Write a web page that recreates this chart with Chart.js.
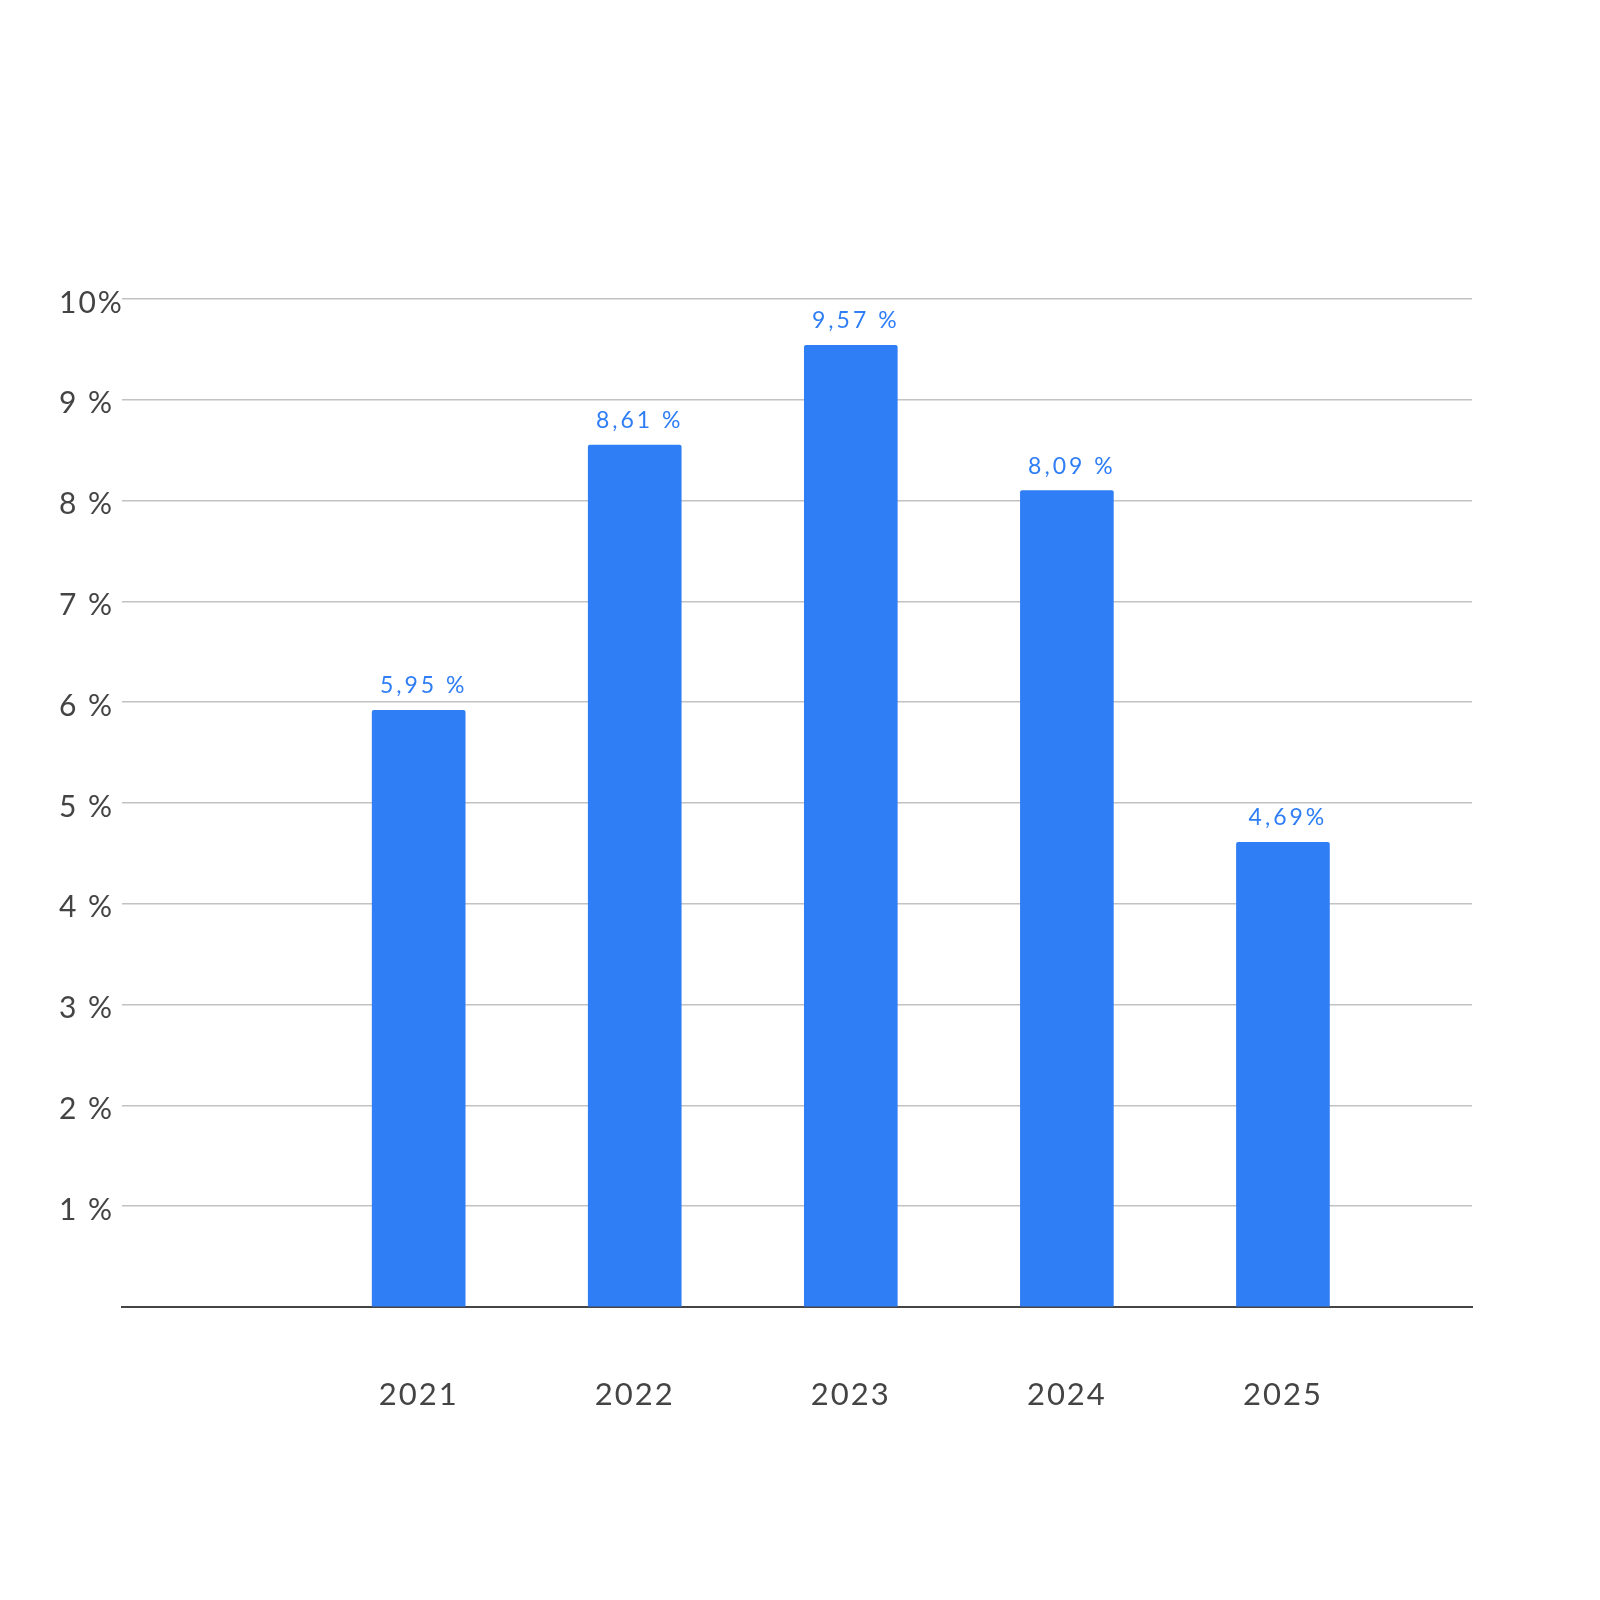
<!DOCTYPE html>
<html>
<head>
<meta charset="utf-8">
<script src="https://cdn.jsdelivr.net/npm/chart.js@4/dist/chart.umd.min.js"></script>
<style>
html,body{margin:0;padding:0;background:#fff;}
canvas{display:block;}
</style>
</head>
<body>
<canvas id="c" width="1600" height="1600"></canvas>
<script>
const years = [2021, 2022, 2023, 2024, 2025];
const barValues = [5.92, 8.55, 9.54, 8.10, 4.61];
const valueLabels = ['5,95 %', '8,61 %', '9,57 %', '8,09 %', '4,69%'];
const yTickLabels = {1:'1 %',2:'2 %',3:'3 %',4:'4 %',5:'5 %',6:'6 %',7:'7 %',8:'8 %',9:'9 %',10:'10%'};

const FONT = 'Lato, "Open Sans", sans-serif';
const BLUE = '#2f7ef6';

const letterSpacingPlugin = {
  id: 'ls',
  beforeDraw(chart){ chart.ctx.letterSpacing = '2px'; },
  beforeLayout(chart){ chart.ctx.letterSpacing = '2px'; }
};

const valueLabelPlugin = {
  id: 'valueLabels',
  afterDatasetsDraw(chart){
    const ctx = chart.ctx;
    const meta = chart.getDatasetMeta(0);
    ctx.save();
    ctx.letterSpacing = '3px';
    ctx.font = '23px ' + FONT;
    ctx.fillStyle = BLUE;
    ctx.textAlign = 'center';
    ctx.textBaseline = 'alphabetic';
    meta.data.forEach((bar, i) => {
      ctx.fillText(valueLabels[i], bar.x + 5, bar.y - 17);
    });
    ctx.restore();
  }
};

new Chart(document.getElementById('c'), {
  type: 'bar',
  data: {
    datasets: [{
      data: years.map((y, i) => ({x: y, y: barValues[i]})),
      backgroundColor: BLUE,
      borderRadius: 2,
      borderSkipped: 'bottom',
      barThickness: 93
    }]
  },
  options: {
    responsive: false,
    animation: false,
    devicePixelRatio: 1,
    layout: { padding: { left: 59, right: 128, top: 299, bottom: 163 } },
    plugins: { legend: { display: false }, tooltip: { enabled: false } },
    scales: {
      x: {
        type: 'linear',
        min: 2019.627,
        max: 2025.875,
        offset: false,
        afterBuildTicks(scale){ scale.ticks = years.map(v => ({value: v})); },
        afterFit(scale){ scale.height = 130; },
        ticks: {
          callback: v => String(v),
          color: '#444',
          font: { family: FONT, size: 31 },
          padding: 69,
          maxRotation: 0,
          autoSkip: false
        },
        grid: { display: false, drawTicks: false },
        border: { display: true, color: '#444', width: 2 }
      },
      y: {
        min: 0,
        max: 10,
        afterBuildTicks(scale){ scale.ticks = [0,1,2,3,4,5,6,7,8,9,10].map(v => ({value: v})); },
        afterFit(scale){ scale.width = 63; },
        ticks: {
          callback: v => yTickLabels[v] || '',
          color: '#444',
          crossAlign: 'far',
          font: { family: FONT, size: 30 },
          padding: 0,
          labelOffset: 4
        },
        grid: {
          color: ctx => ctx.tick && ctx.tick.value === 0 ? 'rgba(0,0,0,0)' : '#c2c2c2',
          lineWidth: 1.5,
          drawTicks: false
        },
        border: { display: false }
      }
    }
  },
  plugins: [letterSpacingPlugin, valueLabelPlugin]
});
</script>
</body>
</html>
